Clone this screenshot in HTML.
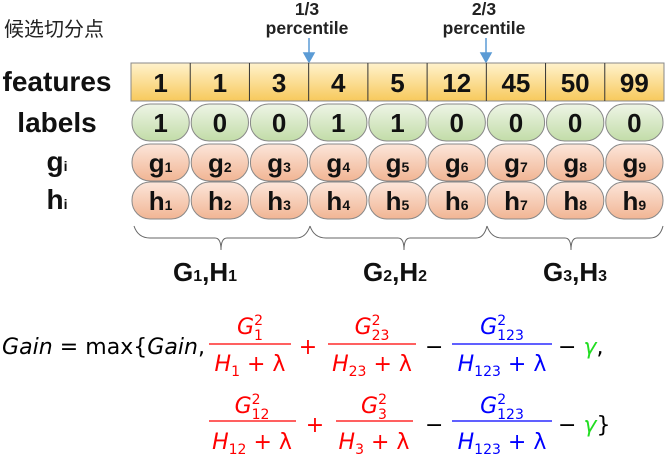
<!DOCTYPE html>
<html><head><meta charset="utf-8"><style>
body{margin:0;background:#fff;}
svg{display:block;font-family:"Liberation Sans","Noto Sans CJK SC",sans-serif;}
</style></head><body>
<svg width="670" height="468" viewBox="0 0 670 468">
<defs>
<linearGradient id="gy" x1="0" y1="0" x2="0" y2="1"><stop offset="0" stop-color="#fff2cc"/><stop offset="1" stop-color="#f7c95c"/></linearGradient>
<linearGradient id="gg" x1="0" y1="0" x2="0" y2="1"><stop offset="0" stop-color="#eef5e6"/><stop offset="1" stop-color="#c2dca8"/></linearGradient>
<linearGradient id="go" x1="0" y1="0" x2="0" y2="1"><stop offset="0" stop-color="#fce6da"/><stop offset="1" stop-color="#f1b594"/></linearGradient>
</defs>
<text x="4" y="36" font-size="20" fill="#222">候选切分点</text>
<g font-weight="bold" font-size="17.5" fill="#222" text-anchor="middle">
<text x="307" y="15">1/3</text>
<text x="307" y="34">percentile</text>
<text x="484" y="15">2/3</text>
<text x="484" y="34">percentile</text>
</g>
<g stroke="#5b9bd5" stroke-width="1.5" fill="#5b9bd5">
<line x1="309" y1="38" x2="309" y2="54"/>
<polygon points="304,53 314,53 309,62"/>
<line x1="486" y1="38" x2="486" y2="54"/>
<polygon points="481,53 491,53 486,62"/>
</g>
<g font-weight="bold" fill="#111" text-anchor="middle">
<text x="57" y="91" font-size="28">features</text>
<text x="57" y="132" font-size="28">labels</text>
<text x="57" y="171" font-size="28">g<tspan font-size="14">i</tspan></text>
<text x="57" y="209" font-size="28">h<tspan font-size="14">i</tspan></text>
</g>
<rect x="131" y="63" width="533" height="38" fill="url(#gy)" stroke="#888"/>
<g id="cells"></g>
<g fill="none" stroke="#666" stroke-width="1">
<path d="M134,226 Q138,238 150,238 L215,238 Q221,238 221,250 Q221,238 227,238 L296,238 Q306,238 310,226"/>
<path d="M310,226 Q314,238 326,238 L398,238 Q404,238 404,250 Q404,238 410,238 L476,238 Q484,238 487,226"/>
<path d="M487,226 Q491,238 502,238 L565,238 Q571,238 571,250 Q571,238 577,238 L650,238 Q660,238 663,226"/>
</g>
<g font-weight="bold" font-size="26" fill="#111" text-anchor="middle">
<text x="205" y="281">G<tspan font-size="16">1</tspan>,H<tspan font-size="16">1</tspan></text>
<text x="395" y="281">G<tspan font-size="16">2</tspan>,H<tspan font-size="16">2</tspan></text>
<text x="575" y="281">G<tspan font-size="16">3</tspan>,H<tspan font-size="16">3</tspan></text>
</g>
<g font-family="'DejaVu Sans',sans-serif" font-size="22">
<text x="2" y="354" fill="#000" textLength="203"><tspan font-style="italic">Gain</tspan> = max{<tspan font-style="italic">Gain</tspan>,</text>
<g fill="#f00" stroke="none" text-anchor="middle">
<text x="250" y="334"><tspan font-style="italic">G</tspan><tspan font-size="14" dy="-9">2</tspan><tspan font-size="14" dx="-9" dy="15">1</tspan></text>
<text x="250" y="371"><tspan font-style="italic">H</tspan><tspan font-size="14" dy="5">1</tspan><tspan dy="-5"> + λ</tspan></text>
<text x="372" y="334"><tspan font-style="italic">G</tspan><tspan font-size="14" dy="-9">2</tspan><tspan font-size="14" dx="-9" dy="15">23</tspan></text>
<text x="372" y="371"><tspan font-style="italic">H</tspan><tspan font-size="14" dy="5">23</tspan><tspan dy="-5"> + λ</tspan></text>
<text x="308" y="354">+</text>
<text x="252" y="413"><tspan font-style="italic">G</tspan><tspan font-size="14" dy="-9">2</tspan><tspan font-size="14" dx="-9" dy="15">12</tspan></text>
<text x="252" y="449"><tspan font-style="italic">H</tspan><tspan font-size="14" dy="5">12</tspan><tspan dy="-5"> + λ</tspan></text>
<text x="374" y="413"><tspan font-style="italic">G</tspan><tspan font-size="14" dy="-9">2</tspan><tspan font-size="14" dx="-9" dy="15">3</tspan></text>
<text x="374" y="449"><tspan font-style="italic">H</tspan><tspan font-size="14" dy="5">3</tspan><tspan dy="-5"> + λ</tspan></text>
<text x="315" y="432">+</text>
</g>
<g fill="#00f" text-anchor="middle">
<text x="502" y="334"><tspan font-style="italic">G</tspan><tspan font-size="14" dy="-9">2</tspan><tspan font-size="14" dx="-9" dy="15">123</tspan></text>
<text x="502" y="371"><tspan font-style="italic">H</tspan><tspan font-size="14" dy="5">123</tspan><tspan dy="-5"> + λ</tspan></text>
<text x="502" y="413"><tspan font-style="italic">G</tspan><tspan font-size="14" dy="-9">2</tspan><tspan font-size="14" dx="-9" dy="15">123</tspan></text>
<text x="502" y="449"><tspan font-style="italic">H</tspan><tspan font-size="14" dy="5">123</tspan><tspan dy="-5"> + λ</tspan></text>
</g>
<line x1="209" y1="344" x2="291" y2="344" stroke="#f00" stroke-width="1.2"/>
<line x1="328" y1="344" x2="416" y2="344" stroke="#f00" stroke-width="1.2"/>
<line x1="452" y1="344" x2="552" y2="344" stroke="#00f" stroke-width="1.2"/>
<line x1="209" y1="421" x2="296" y2="421" stroke="#f00" stroke-width="1.2"/>
<line x1="336" y1="421" x2="413" y2="421" stroke="#f00" stroke-width="1.2"/>
<line x1="452" y1="421" x2="552" y2="421" stroke="#00f" stroke-width="1.2"/>
<text x="425" y="354" fill="#000">−</text>
<text x="558" y="354" fill="#000">− <tspan fill="#2d2" font-style="italic">γ</tspan>,</text>
<text x="425" y="432" fill="#000">−</text>
<text x="558" y="432" fill="#000">− <tspan fill="#2d2" font-style="italic">γ</tspan>}</text>
</g>
<script>
const features=[1,1,3,4,5,12,45,50,99];
const labels=[1,0,0,1,1,0,0,0,0];
const g=document.getElementById('cells');
const NS='http://www.w3.org/2000/svg';
const x0=131,w=533/9;
function mk(tag,a){const e=document.createElementNS(NS,tag);for(const k in a)e.setAttribute(k,a[k]);g.appendChild(e);return e;}
for(let i=0;i<9;i++){
  const x=x0+i*w,cx=x+w/2;
  if(i>0){const l=mk('line',{x1:x,y1:63,x2:x,y2:101,stroke:'#333'});
    
    }
  const t=mk('text',{x:cx,y:92,'text-anchor':'middle','font-size':26,'font-weight':'bold',fill:'#111'});t.textContent=features[i];
  
  
  const rows=[[104,'url(#gg)',String(labels[i]),'label-pill',''],[144,'url(#go)','g','g-pill',i+1],[182,'url(#go)','h','h-pill',i+1]];
  rows.forEach(r=>{
    const p=mk('rect',{x:x+1,y:r[0],width:w-2,height:37,rx:18,ry:18,fill:r[1],stroke:'#888'});
    
    
    const tt=mk('text',{x:cx,y:r[0]+28,'text-anchor':'middle','font-size':26,'font-weight':'bold',fill:'#111'});
    
    
    if(r[4]===''){tt.textContent=r[2];}
    else{tt.textContent=r[2];const s=document.createElementNS(NS,'tspan');s.setAttribute('font-size','14');s.textContent=r[4];tt.appendChild(s);}
  });
}
</script>
</svg>
</body></html>
